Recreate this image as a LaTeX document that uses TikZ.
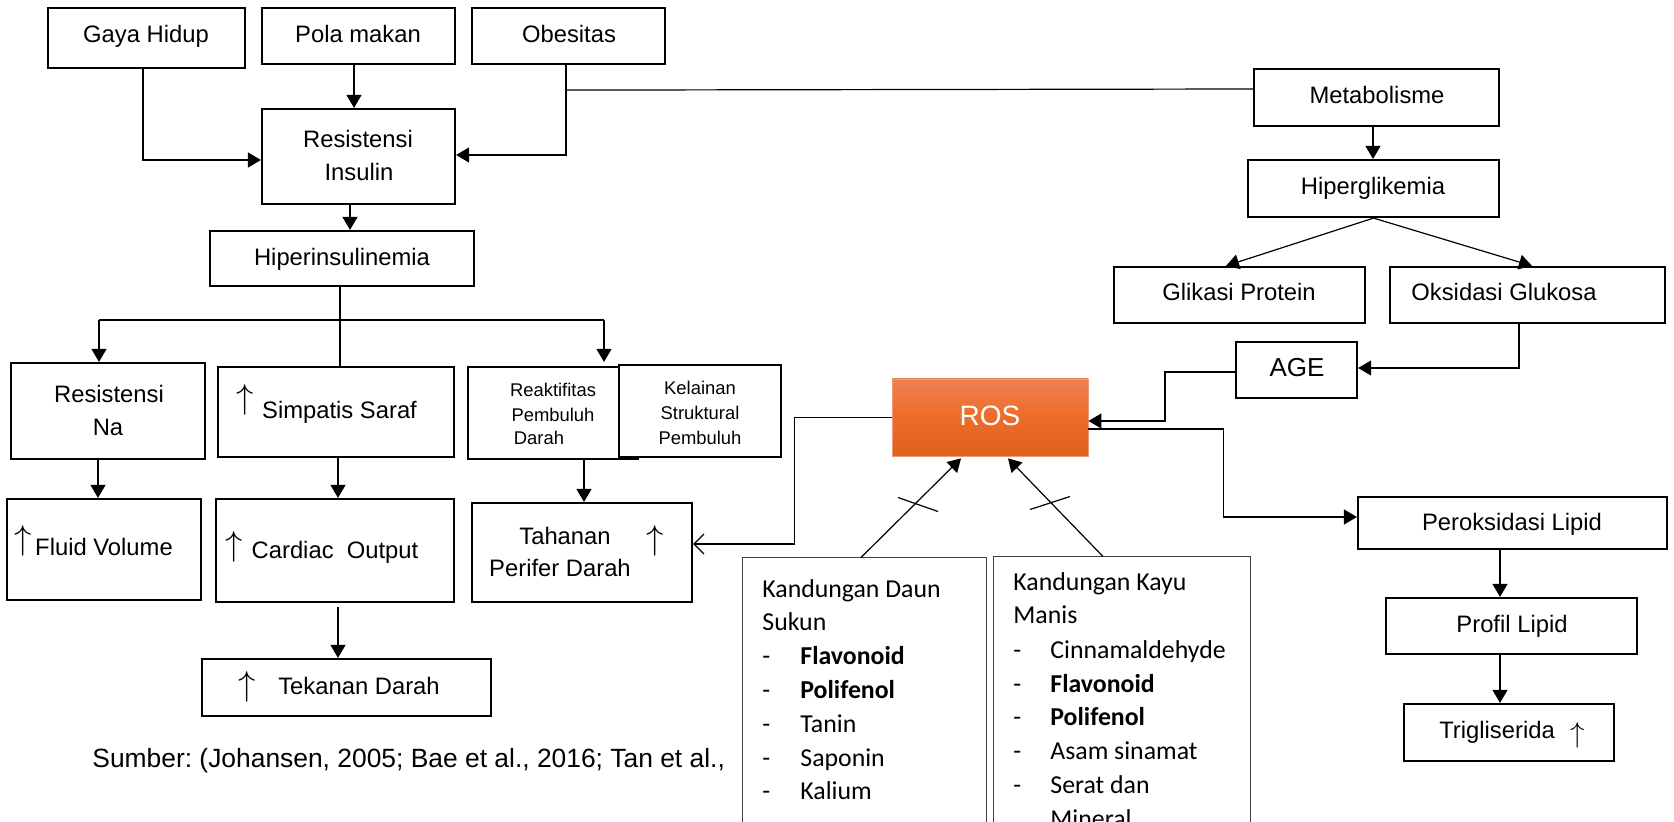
\documentclass[tikz,border=0pt]{standalone}
\usepackage{fontspec}
\setmainfont{Liberation Sans}
\newfontfamily\carlito{Carlito}
\usetikzlibrary{arrows.meta,calc}
\frenchspacing
\definecolor{rostop}{RGB}{236,128,82}
\definecolor{rosmid}{RGB}{238,108,42}
\definecolor{rosbot}{RGB}{226,96,30}
\tikzset{
 box/.style={draw=black, line width=1.1pt, fill=white, inner sep=0pt},
 thinbox/.style={draw=black!75, line width=0.5pt, fill=white, inner sep=0pt},
 rosbox/.style={draw=rostop!80!white, line width=0.4pt, inner sep=0pt, top color=rostop, bottom color=rosbot, middle color=rosmid},
 conn/.style={line width=0.6pt, draw=black},
 arr/.style={conn, -{Triangle[length=6.5pt,width=7.5pt]}},
 openarr/.style={conn, -{Straight Barb[length=5pt,width=10pt]}},
 txt/.style={inner sep=0pt, anchor=base, font=\fontsize{11.9}{14}\selectfont},
 smalltxt/.style={inner sep=0pt, anchor=base, font=\fontsize{9.2}{11}\selectfont},
 uparr/.style={inner sep=0pt, anchor=south, font=\fontsize{18.6}{20}\selectfont},
 uparrsm/.style={inner sep=0pt, anchor=south, font=\fontsize{14.6}{16}\selectfont},
 listtxt/.style={inner sep=0pt, anchor=base west, font=\carlito\fontsize{12.9}{15}\selectfont},
}
\newcommand\mkbox[6][box]{%
 \pgfmathsetmacro\bxw{(#5-#3)*0.5}%
 \pgfmathsetmacro\bxh{(#6-#4)*0.5}%
 \node[#1, minimum width=\bxw pt, minimum height=\bxh pt] (#2) at ({(#3+#5)/2},{(#4+#6)/2}) {};}
\begin{document}
\begin{tikzpicture}[x=0.5pt,y=-0.5pt]
\useasboundingbox (0,0) rectangle (1674,822);
% source text
\node[inner sep=0pt, anchor=base west, font=\fontsize{13.2}{15}\selectfont] (src) at (92,767) {Sumber: (Johansen, 2005; Bae et al., 2016; Tan et al.,};
% boxes
\mkbox{gaya}{48}{8}{245}{68}
\mkbox{pola}{262}{8}{455}{64}
\mkbox{obes}{472}{8}{665}{64}
\mkbox{resins}{262}{109}{455}{204}
\mkbox{hiper}{210}{231}{474}{286}
\mkbox{resna}{11}{363}{205}{459}
\mkbox{simp}{218}{367}{454}{457}
\mkbox{reak}{468}{367}{638}{459}
\mkbox{kel}{619}{365}{781}{457}
\mkbox{fluid}{7}{499}{201}{600}
\mkbox{card}{216}{499}{454}{602}
\mkbox{tah}{472}{503}{692}{602}
\mkbox{tek}{202}{659}{491}{716}
\mkbox[rosbox]{ros}{892}{379}{1088}{456}
\mkbox[thinbox]{daun}{742}{558}{986}{900}
\mkbox[thinbox]{kayu}{993}{557}{1250}{900}
\mkbox{meta}{1254}{69}{1499}{126}
\mkbox{hglik}{1248}{160}{1499}{217}
\mkbox{glik}{1114}{267}{1365}{323}
\mkbox{oks}{1390}{267}{1665}{323}
\mkbox{age}{1236}{342}{1357}{398}
\mkbox{perok}{1358}{497}{1667}{549}
\mkbox{prof}{1386}{598}{1637}{654}
\mkbox{trig}{1404}{704}{1614}{761}
% texts
\node[txt] (tgaya) at (146,42.5) {Gaya Hidup};
\node[txt] (tpola) at (358,42.5) {Pola makan};
\node[txt] (tobes) at (569,42.5) {Obesitas};
\node[txt] (tres1) at (358,147.5) {Resistensi};
\node[txt] (tres2) at (359,180.5) {Insulin};
\node[txt] (thiper) at (342,265.5) {Hiperinsulinemia};
\node[txt] (tna1) at (109,402.5) {Resistensi};
\node[txt] (tna2) at (108,435.5) {Na};
\node[txt] (tsimp) at (339.5,419) {Simpatis Saraf};
\node[uparr] (asimp) at (245,416) {$\uparrow$};
\node[smalltxt] (treak1) at (553,396.6) {Reaktifitas};
\node[smalltxt] (treak2) at (553,421.6) {Pembuluh};
\node[smalltxt] (treak3) at (539,444.6) {Darah};
\node[smalltxt] (tkel1) at (700,394.6) {Kelainan};
\node[smalltxt] (tkel2) at (700,419.6) {Struktural};
\node[smalltxt] (tkel3) at (700,444.6) {Pembuluh};
\node[txt] (tfluid) at (104,555.5) {Fluid Volume};
\node[uparr] (afluid) at (23,557) {$\uparrow$};
\node[txt] (tcard) at (335,558.5) {Cardiac\ \ Output};
\node[uparr] (acard) at (234,563) {$\uparrow$};
\node[txt] (ttah1) at (565,544.5) {Tahanan};
\node[txt] (ttah2) at (560,576.5) {Perifer Darah};
\node[uparr] (atah) at (655,557) {$\uparrow$};
\node[txt] (ttek) at (359,694.5) {Tekanan Darah};
\node[uparr] (atek) at (247,703) {$\uparrow$};
\node[inner sep=0pt, anchor=base, text=white, font=\fontsize{14}{16}\selectfont] (tros) at (990,426) {ROS};
\node[txt] (tmeta) at (1377,103.5) {Metabolisme};
\node[txt] (thglik) at (1373,194.5) {Hiperglikemia};
\node[txt] (tglik) at (1239,300.5) {Glikasi Protein};
\node[txt] (toks) at (1504,300.5) {Oksidasi Glukosa};
\node[inner sep=0pt, anchor=base, font=\fontsize{13}{15}\selectfont] (tage) at (1297,377) {AGE};
\node[txt] (tperok) at (1512,530.5) {Peroksidasi Lipid};
\node[txt] (tprof) at (1512,632.5) {Profil Lipid};
\node[txt] (ttrig) at (1497,738.5) {Trigliserida};
\node[uparrsm] (atrig) at (1578,748) {$\uparrow$};
% list: daun sukun
\node[listtxt] (d1) at (762,597) {Kandungan Daun};
\node[listtxt] (d2) at (762,631) {Sukun};
\node[listtxt] (d3m) at (762,664.5) {-};
\node[listtxt] (d3) at (800,664.5) {\bfseries Flavonoid};
\node[listtxt] (d4m) at (762,698) {-};
\node[listtxt] (d4) at (800,698) {\bfseries Polifenol};
\node[listtxt] (d5m) at (762,732) {-};
\node[listtxt] (d5) at (800,732) {Tanin};
\node[listtxt] (d6m) at (762,766) {-};
\node[listtxt] (d6) at (800,766) {Saponin};
\node[listtxt] (d7m) at (762,799.5) {-};
\node[listtxt] (d7) at (800,799.5) {Kalium};
% list: kayu manis
\node[listtxt] (k1) at (1013,590) {Kandungan Kayu};
\node[listtxt] (k2) at (1013,624) {Manis};
\node[listtxt] (k3m) at (1013,658) {-};
\node[listtxt] (k3) at (1050,658) {Cinnamaldehyde};
\node[listtxt] (k4m) at (1013,692) {-};
\node[listtxt] (k4) at (1050,692) {\bfseries Flavonoid};
\node[listtxt] (k5m) at (1013,725) {-};
\node[listtxt] (k5) at (1050,725) {\bfseries Polifenol};
\node[listtxt] (k6m) at (1013,759) {-};
\node[listtxt] (k6) at (1050,759) {Asam sinamat};
\node[listtxt] (k7m) at (1013,793) {-};
\node[listtxt] (k7) at (1050,793) {Serat dan};
\node[listtxt] (k8) at (1050,827) {Mineral};
% connectors, left part
\draw[arr] ([xshift=-1.75pt]gaya.south) |- ([yshift=-1.75pt]resins.west);
\draw[arr] ([xshift=-2.25pt]pola.south) -- ([xshift=-2.25pt]resins.north);
\draw[arr] ([xshift=-1.25pt]obes.south) |- ([yshift=0.75pt]resins.east);
\draw[conn] ([xshift=-1.25pt,yshift=-12.5pt]obes.south) -- ([yshift=4.25pt]meta.west);
\draw[arr] ([xshift=-4.25pt]resins.south) -- ([xshift=-4.25pt]resins.south |- hiper.north);
\draw[conn] ([xshift=-1pt]hiper.south) -- ([xshift=-1pt]hiper.south |- simp.north);
\coordinate (hl) at (99,320);
\coordinate (hr) at (604,320);
\draw[conn] (hl) -- (hr);
\draw[arr] (hl) -- (hl |- resna.north);
\draw[arr] (hr) -- ([yshift=2pt]hr |- reak.north);
\draw[arr] ([xshift=-5pt]resna.south) -- ([xshift=-5pt]resna.south |- fluid.north);
\draw[arr] ([xshift=1pt]simp.south) -- ([xshift=1pt]simp.south |- card.north);
\draw[arr] ([xshift=15.5pt]reak.south) -- ([xshift=15.5pt]reak.south |- tah.north);
\draw[arr] ([xshift=1.5pt,yshift=-2pt]card.south) -- ([xshift=1.5pt]card.south |- tek.north);
% ROS connections
\draw[openarr] (ros.west) -- ++(-48.5pt,0) |- ([yshift=4.25pt]tah.east);
\draw[arr] ([yshift=-1pt]age.west) -- ++(-35pt,0) |- ([yshift=-1.75pt]ros.east);
\draw[arr] ([yshift=-5.75pt]ros.east) -- ++(67.5pt,0) |- ([yshift=3pt]perok.west);
\draw[arr] ([xshift=-4.25pt]oks.south) |- ([yshift=1pt]age.east);
\draw[arr] ([xshift=-1.5pt]daun.north) -- ([xshift=-14.5pt,yshift=-1pt]ros.south);
\draw[conn] ([shift={(17pt,30pt)}]daun.north) -- ([shift={(37pt,23pt)}]daun.north);
\draw[arr] ([xshift=-9.25pt]kayu.north) -- ([xshift=9pt,yshift=-1pt]ros.south);
\draw[conn] ([shift={(-45.75pt,23.5pt)}]kayu.north) -- ([shift={(-25.75pt,30pt)}]kayu.north);
% right part
\draw[arr] ([xshift=-1.75pt]meta.south) -- ([xshift=-1.75pt]meta.south |- hglik.north);
\draw[arr] (hglik.south) -- ([xshift=-6.75pt]glik.north);
\draw[arr] (hglik.south) -- ([xshift=2.25pt]oks.north);
\draw[arr] ([xshift=-6.25pt]perok.south) -- ([xshift=-6.25pt]perok.south |- prof.north);
\draw[arr] ([xshift=-5.75pt]prof.south) -- ([xshift=-5.75pt]prof.south |- trig.north);
\end{tikzpicture}
\end{document}
